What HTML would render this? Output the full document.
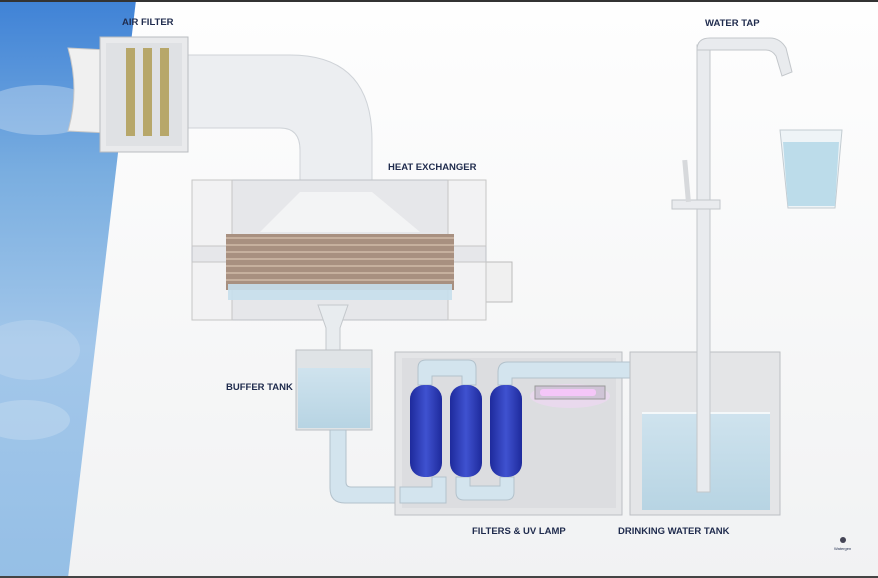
<!DOCTYPE html>
<html><head><style>
html,body{margin:0;padding:0;background:#fff;}
svg{display:block;}
text{font-family:"Liberation Sans",sans-serif;font-weight:bold;font-size:9.5px;fill:#1f2b4d;}
</style></head><body>
<svg width="878" height="578" viewBox="0 0 878 578" xmlns="http://www.w3.org/2000/svg">
<defs>
<linearGradient id="sky" x1="0" y1="0" x2="0" y2="1">
<stop offset="0" stop-color="#3f82d6"/><stop offset="0.3" stop-color="#7aaee0"/><stop offset="0.6" stop-color="#a3c7ea"/><stop offset="1" stop-color="#95bfe6"/></linearGradient>
<linearGradient id="bg" x1="0" y1="0" x2="0" y2="1"><stop offset="0" stop-color="#fefefe"/><stop offset="1" stop-color="#f1f2f3"/></linearGradient>
<linearGradient id="water" x1="0" y1="0" x2="0" y2="1"><stop offset="0" stop-color="#cfe3ee"/><stop offset="1" stop-color="#b7d4e3"/></linearGradient>
<linearGradient id="blue" x1="0" y1="0" x2="1" y2="0"><stop offset="0" stop-color="#1e2a9c"/><stop offset="0.5" stop-color="#3f52d0"/><stop offset="1" stop-color="#1e2a9c"/></linearGradient>
</defs>
<rect width="878" height="578" fill="url(#bg)"/>
<polygon points="0,0 136,0 68,578 0,578" fill="url(#sky)"/>
<ellipse cx="40" cy="110" rx="60" ry="25" fill="#dfeaf5" opacity="0.35"/>
<ellipse cx="30" cy="350" rx="50" ry="30" fill="#c9ddf0" opacity="0.35"/>
<ellipse cx="25" cy="420" rx="45" ry="20" fill="#d3e4f3" opacity="0.35"/>
<rect x="0" y="0" width="878" height="2" fill="#333"/>
<rect x="0" y="576" width="878" height="2" fill="#444"/>

<path d="M183,55 L290,55 Q372,55 372,140 L372,190 L300,190 L300,150 Q300,128 280,128 L183,128 Z" fill="#eceef1" stroke="#cfd3d8"/>
<path d="M68,48 L108,50 L108,133 L68,131 Q80,90 68,48Z" fill="#f0f0f0" stroke="#c8c8c8"/>
<rect x="100" y="37" width="88" height="115" fill="#e9eaec" stroke="#b9bcc0"/>
<rect x="106" y="43" width="76" height="103" fill="#dfe1e4"/>
<rect x="126" y="48" width="9" height="88" fill="#b7a76a"/>
<rect x="143" y="48" width="9" height="88" fill="#b7a76a"/>
<rect x="160" y="48" width="9" height="88" fill="#b7a76a"/>

<rect x="486" y="262" width="26" height="40" fill="#f0f0f0" stroke="#bbb"/>
<rect x="192" y="180" width="294" height="140" fill="#e6e7ea" stroke="#bfc2c6"/>
<rect x="232" y="192" width="216" height="116" fill="#e6e7ea"/>
<path d="M300,192 L372,192 L420,232 L260,232Z" fill="#f6f7f8" opacity="0.8"/>
<rect x="192" y="180" width="40" height="66" fill="#f2f2f3" stroke="#c6c6c6"/>
<rect x="448" y="180" width="38" height="66" fill="#f2f2f3" stroke="#c6c6c6"/>
<rect x="192" y="262" width="40" height="58" fill="#f2f2f3" stroke="#c6c6c6"/>
<rect x="448" y="262" width="38" height="58" fill="#f2f2f3" stroke="#c6c6c6"/>
<rect x="226" y="234" width="228" height="56" fill="#a89080"/>
<g stroke="#d8c2b0" stroke-width="1.3">
<line x1="226" y1="238" x2="454" y2="238"/><line x1="226" y1="245" x2="454" y2="245"/><line x1="226" y1="252" x2="454" y2="252"/><line x1="226" y1="259" x2="454" y2="259"/><line x1="226" y1="266" x2="454" y2="266"/><line x1="226" y1="273" x2="454" y2="273"/><line x1="226" y1="280" x2="454" y2="280"/></g>
<rect x="228" y="284" width="224" height="16" fill="#c6dfec" opacity="0.9"/>
<path d="M318,305 L348,305 L340,328 L340,350 L326,350 L326,328Z" fill="#e8ecef" stroke="#c4c8cc"/>

<rect x="296" y="350" width="76" height="80" fill="#dfe3e6" stroke="#bcc0c4"/>
<rect x="298" y="368" width="72" height="60" fill="url(#water)"/>
<path d="M330,430 L346,430 L346,482 Q346,487 351,487 L420,487 L420,503 L345,503 Q330,503 330,488Z" fill="#d3e4ee" stroke="#b3c2cc"/>

<rect x="395" y="352" width="227" height="163" fill="#e4e5e7" stroke="#bcbfc3"/>
<rect x="402" y="358" width="214" height="150" fill="#dcdde0"/>
<path d="M418,385 L418,368 Q418,360 426,360 L468,360 Q476,360 476,368 L476,385 L462,385 L462,376 L432,376 L432,385Z" fill="#d3e4ee" stroke="#b3c2cc"/>
<path d="M456,477 L456,492 Q456,500 464,500 L506,500 Q514,500 514,492 L514,477 L500,477 L500,486 L470,486 L470,477Z" fill="#d3e4ee" stroke="#b3c2cc"/>
<path d="M400,487 L432,487 L432,477 L446,477 L446,503 L400,503Z" fill="#d3e4ee" stroke="#b3c2cc"/>
<path d="M498,385 L498,372 Q498,362 508,362 L670,362 Q676,362 676,368 L676,395 L662,395 L662,378 L512,378 L512,385Z" fill="#d3e4ee" stroke="#b3c2cc"/>
<rect x="410" y="385" width="32" height="92" rx="14" fill="url(#blue)"/>
<rect x="450" y="385" width="32" height="92" rx="14" fill="url(#blue)"/>
<rect x="490" y="385" width="32" height="92" rx="14" fill="url(#blue)"/>
<ellipse cx="570" cy="396" rx="40" ry="12" fill="#ecd8f0" opacity="0.8"/>
<rect x="535" y="386" width="70" height="13" fill="#cfc4d6" stroke="#999"/>
<rect x="540" y="389" width="56" height="7" rx="3" fill="#f4c6f8"/>

<rect x="630" y="352" width="150" height="163" fill="#e4e5e7" stroke="#bcbfc3"/>
<rect x="642" y="412" width="128" height="98" fill="url(#water)"/>
<line x1="642" y1="413" x2="770" y2="413" stroke="#f4f8fa" stroke-width="2"/>
<rect x="697" y="45" width="13" height="447" fill="#e9ebee" stroke="#c3c7cb"/>
<path d="M697,50 Q697,38 710,38 L770,38 Q780,38 786,48 L792,72 L782,76 L776,56 Q772,50 766,50 L710,50Z" fill="#e9ebee" stroke="#c3c7cb"/>
<rect x="672" y="200" width="48" height="9" fill="#e9ebee" stroke="#c3c7cb"/>
<rect x="684" y="160" width="5" height="42" fill="#d7d9dc" transform="rotate(-5 686 180)"/>
<path d="M780,130 L842,130 L835,208 L788,208Z" fill="#eef4f7" stroke="#c3ccd2"/>
<path d="M783,142 L839,142 L835,206 L788,206Z" fill="#bcdcea"/>

<text x="122" y="25">AIR FILTER</text>
<text x="388" y="170">HEAT EXCHANGER</text>
<text x="705" y="26">WATER TAP</text>
<text x="226" y="390">BUFFER TANK</text>
<text x="472" y="534">FILTERS &amp; UV LAMP</text>
<text x="618" y="534">DRINKING WATER TANK</text>
<circle cx="843" cy="540" r="3" fill="#445"/>
<text x="834" y="550" style="font-size:4px;font-weight:normal">Watergen</text>
</svg>
</body></html>
